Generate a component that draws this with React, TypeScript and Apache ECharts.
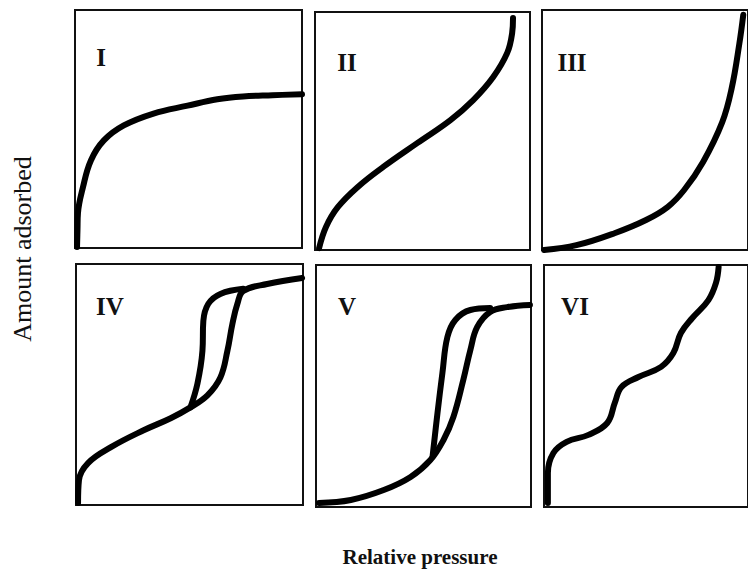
import React, { useEffect, useRef } from "react";
import * as echarts from "echarts";

// Normalised [relative pressure, amount adsorbed] points
const typeI = [[0.009, 0.004], [0.011, 0.08], [0.013, 0.146], [0.035, 0.255], [0.07, 0.368], [0.127, 0.452], [0.215, 0.515], [0.346, 0.565], [0.496, 0.598], [0.627, 0.625], [0.74, 0.637], [0.87, 0.642], [1.0, 0.646]];
const typeII = [[0.019, 0.008], [0.051, 0.097], [0.106, 0.18], [0.199, 0.265], [0.319, 0.35], [0.477, 0.45], [0.63, 0.546], [0.736, 0.63], [0.829, 0.727], [0.894, 0.828], [0.917, 0.912], [0.921, 0.975]];
const typeIII = [[0.01, 0.0], [0.167, 0.02], [0.352, 0.07], [0.505, 0.125], [0.611, 0.18], [0.69, 0.25], [0.782, 0.367], [0.875, 0.533], [0.921, 0.675], [0.958, 0.86], [0.977, 0.98]];
const typeIVads = [[0.009, 0.008], [0.013, 0.103], [0.053, 0.174], [0.154, 0.24], [0.298, 0.31], [0.417, 0.36], [0.504, 0.405], [0.579, 0.455], [0.636, 0.529], [0.667, 0.64], [0.689, 0.752], [0.711, 0.835], [0.737, 0.888], [0.842, 0.917], [0.996, 0.942]];
const typeIVdes = [[0.504, 0.405], [0.535, 0.504], [0.557, 0.64], [0.561, 0.764], [0.583, 0.835], [0.636, 0.876], [0.737, 0.897]];
const typeVads = [[0.014, 0.017], [0.162, 0.029], [0.315, 0.07], [0.44, 0.124], [0.532, 0.194], [0.593, 0.277], [0.639, 0.372], [0.685, 0.525], [0.718, 0.649], [0.75, 0.744], [0.81, 0.806], [0.889, 0.826], [0.995, 0.835]];
const typeVdes = [[0.542, 0.207], [0.565, 0.388], [0.588, 0.554], [0.611, 0.702], [0.648, 0.773], [0.718, 0.814], [0.81, 0.822]];
const typeVI = [[0.019, 0.017], [0.019, 0.14], [0.046, 0.223], [0.111, 0.269], [0.218, 0.298], [0.31, 0.347], [0.347, 0.43], [0.38, 0.496], [0.463, 0.537], [0.574, 0.579], [0.634, 0.636], [0.671, 0.719], [0.727, 0.781], [0.806, 0.855], [0.843, 0.926], [0.856, 0.992]];

const panelLabels = ["I", "II", "III", "IV", "V", "VI"];
const panelSeries = [[typeI], [typeII], [typeIII], [typeIVads, typeIVdes], [typeVads, typeVdes], [typeVI]];
const xTitle = "Relative pressure";
const yTitle = "Amount adsorbed";

const grids = [
  { left: 75, top: 10, width: 227, height: 238 },
  { left: 315, top: 12, width: 215, height: 238 },
  { left: 542, top: 10, width: 216, height: 240 },
  { left: 76, top: 264, width: 227, height: 241 },
  { left: 316, top: 265, width: 215, height: 242 },
  { left: 544, top: 265, width: 216, height: 242 },
];
const labelPos = [
  [101, 57], [347, 62], [572, 62], [110, 306], [347, 306], [575, 306],
];

export default function App() {
  const ref = useRef<HTMLDivElement>(null);
  useEffect(() => {
    if (!ref.current) return;
    const chart = echarts.init(ref.current, null, { renderer: "svg" });
    const series: any[] = [];
    panelSeries.forEach((list, i) => {
      list.forEach((d) => {
        series.push({
          type: "line",
          xAxisIndex: i,
          yAxisIndex: i,
          data: d,
          smooth: 0.4,
          symbol: "none",
          lineStyle: { color: "#000", width: 6, cap: "round", join: "round" },
          silent: true,
        });
      });
    });
    const axisCommon = {
      type: "value",
      min: 0,
      max: 1,
      axisLine: { show: false },
      axisTick: { show: false },
      axisLabel: { show: false },
      splitLine: { show: false },
    };
    chart.setOption({
      animation: false,
      backgroundColor: "#fff",
      grid: grids.map((g) => ({ ...g, show: true, borderColor: "#111", borderWidth: 2, backgroundColor: "transparent" })),
      xAxis: grids.map((_, i) => ({ ...axisCommon, gridIndex: i })),
      yAxis: grids.map((_, i) => ({ ...axisCommon, gridIndex: i })),
      series,
      graphic: [
        ...panelLabels.map((t, i) => ({
          type: "text",
          x: labelPos[i][0],
          y: labelPos[i][1],
          style: {
            text: t,
            fill: "#111",
            font: "bold 25px 'Liberation Serif', serif",
            align: "center",
            verticalAlign: "middle",
          },
        })),
        {
          type: "text",
          x: 22,
          y: 249,
          rotation: Math.PI / 2,
          style: {
            text: yTitle,
            fill: "#111",
            font: "26px 'Liberation Serif', serif",
            align: "center",
            verticalAlign: "middle",
          },
        },
        {
          type: "text",
          x: 420,
          y: 557,
          style: {
            text: xTitle,
            fill: "#111",
            font: "bold 21px 'Liberation Serif', serif",
            align: "center",
            verticalAlign: "middle",
          },
        },
      ],
    });
    return () => chart.dispose();
  }, []);
  return (
    <div
      ref={ref}
      style={{ position: "absolute", left: 0, top: 0, width: 748, height: 570 }}
    />
  );
}
